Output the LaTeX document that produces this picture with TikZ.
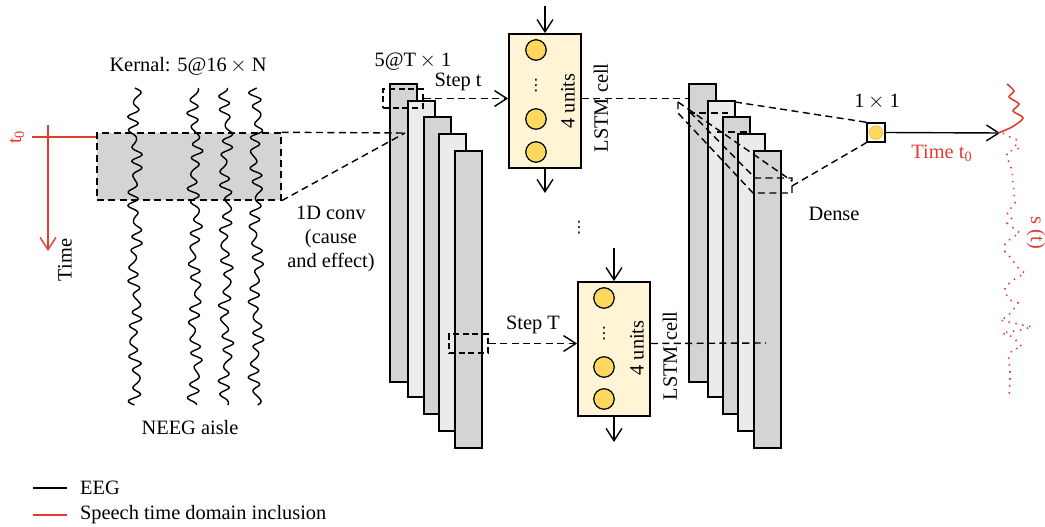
\documentclass[tikz,border=0pt]{standalone}
\usepackage{fontspec}
\setmainfont{Liberation Serif}
\newfontfamily\dotsfont{DejaVu Sans}
\usepackage{xcolor}
\usetikzlibrary{arrows.meta, positioning, calc, fit}

\definecolor{sigred}{RGB}{228,58,47}
\definecolor{bardark}{RGB}{212,212,212}
\definecolor{barlight}{RGB}{235,235,235}
\definecolor{cellfill}{RGB}{255,245,214}
\definecolor{unitfill}{RGB}{253,216,95}

\begin{document}
\begin{tikzpicture}[
  x=0.02cm, y=-0.02cm,
  font=\fontsize{11.6}{13.5}\selectfont,
  bar/.style={draw, line width=1pt, inner sep=0pt},
  win/.style={draw, dashed, line width=0.8pt, inner sep=0pt, dash pattern=on 3.5pt off 2pt},
  cellbox/.style={draw, line width=1pt, fill=cellfill, inner sep=0pt},
  unit/.style={circle, draw, line width=0.7pt, fill=unitfill, minimum size=0.41cm, inner sep=0pt},
  lab/.style={inner sep=1pt},
  vdot/.style={inner sep=0pt, font=\dotsfont\fontsize{9}{9}\selectfont},
  arr/.style={-{Straight Barb[length=7pt, width=9pt]}, line width=0.8pt},
  darr/.style={arr, dash pattern=on 4pt off 2.5pt},
  dline/.style={line width=0.8pt, dash pattern=on 4pt off 2.5pt},
  wave/.style={line width=0.8pt, line join=round}
]
\useasboundingbox (0,0) rectangle (1045,527);

% input band and EEG channels
\node[draw, fill=bardark, inner sep=0pt, dline, fit={(97,133) (281,200)}] (band) {};
\foreach \cx/\ph in {135/0, 195/70, 226/140, 256/210}
  \draw[wave] plot[domain=88:405, samples=200]
    ({\cx + 4.2*sin(24*\x+\ph) + 1.6*sin(33*\x+2*\ph) + 2.4*sin(5*\x+\ph)}, \x);
\node[lab] (kernal) at (188,66) {Kernal: 5@16$\,\times$ N};
\node[lab] (aisle) at (190,428) {NEEG aisle};

% time axis
\coordinate (t0) at (32,137);
\coordinate (ttop) at (48,125);
\coordinate (tbot) at (48,251);
\draw[sigred, line width=0.9pt] (t0) -- (t0 -| band.west);
\draw[sigred, arr] (ttop) -- (tbot);
\node[lab, text=sigred, rotate=90] (t0lab) at (17,137) {t\textsubscript{0}};
\node[lab, rotate=90] (timelab) at (65,260) {Time};

% convolution maps
\foreach \bx/\bt/\bb/\bc/\bn in {390/84/382/bardark/c1, 408/101/397/barlight/c2,
    424/117/414/bardark/c3, 439/134/431/barlight/c4, 455/151/448/bardark/c5}
  \node[bar, fill=\bc, fit={(\bx,\bt) (\bx+27,\bb)}] (\bn) {};
\node[win, fit={(383,89) (423,108)}] (win1) {};
\node[win, fit={(449,334) (488,353)}] (win2) {};
\coordinate (convtip) at (405,133);
\draw[dline] (band.north east) -- (convtip);
\draw[dline] (band.south east) -- (convtip);
\node[lab] (mapsize) at (413,62) {5@T$\,\times$ 1};
\node[lab, align=center] (conv) at (331,239) {1D conv\\(cause\\and effect)};

% LSTM cells
\node[cellbox, fit={(509,34) (581,168)}] (cell1) {};
\node[unit] (u11) at (536,50) {};
\node[unit] (u12) at (536,119) {};
\node[unit] (u13) at (536,152) {};
\node[vdot] (d1) at (536,86) {⋮};
\node[lab, rotate=90] (n1) at (568,101) {4 units};
\node[lab, rotate=90] (lstm1) at (601,108) {LSTM cell};
\coordinate (in1) at (545,6);
\coordinate (out1) at (545,193);
\draw[arr] (in1) -- (cell1.north);
\draw[arr] (cell1.south) -- (out1);

\node[cellbox, fit={(578,282) (650,416)}] (cell2) {};
\node[unit] (u21) at (604,298) {};
\node[unit] (u22) at (604,367) {};
\node[unit] (u23) at (604,399) {};
\node[vdot] (d2) at (604,334) {⋮};
\node[lab, rotate=90] (n2) at (637,348) {4 units};
\node[lab, rotate=90] (lstm2) at (670,356) {LSTM cell};
\coordinate (in2) at (614,248);
\coordinate (out2) at (614,442);
\draw[arr] (in2) -- (cell2.north);
\draw[arr] (cell2.south) -- (out2);

\node[vdot] (dots) at (579,228) {⋮};

\draw[darr] (win1.east) -- (win1.east -| cell1.west);
\node[lab] (stept) at (458,82) {Step t};
\draw[darr] (win2.east) -- (win2.east -| cell2.west);
\node[lab] (stepT) at (533,325) {Step T};

% output maps
\foreach \bx/\bt/\bb/\bc/\bn in {689/84/382/bardark/r1, 708/101/397/barlight/r2,
    723/117/414/bardark/r3, 738/134/431/barlight/r4, 754/151/448/bardark/r5}
  \node[bar, fill=\bc, fit={(\bx,\bt) (\bx+27,\bb)}] (\bn) {};
\draw[dline] (win1.east -| cell1.east) -- (win1.east -| r1.west);
\coordinate (hend2) at (766,343);
\draw[dline] (win2.east -| cell2.east) -- (hend2);

% dense window
\draw[dline] (678,102) -- (792,181);
\draw[dline] (678,102) -- (678,113) -- (753,193) -- (792,193) -- (792,178) -- (755,178);
\draw[dline] (690,112) -- (755,178);
\draw[dline] (688,113) -- (728,113);
\draw[dline] (717,132) -- (748,132);
\node[lab] (dense) at (834,214) {Dense};

% output unit
\node[draw, line width=0.9pt, fill=white, inner sep=0pt, fit={(867,123) (885,142)}] (outbox) {};
\node[circle, draw=unitfill!80!orange, fill=unitfill, line width=0.6pt, minimum width=0.27cm, inner sep=0pt] (outunit) at (outbox.center) {};
\draw[dline] (735,102) -- (outbox.north west);
\draw[dline] (792,186) -- (outbox.south west);
\node[lab] (onebyone) at (877,102) {1$\,\times$ 1};
\coordinate (sig) at (1000,133);
\draw[arr] (outbox.east) -- (sig);
\node[lab, text=sigred] (timeout) at (942,153) {Time t\textsubscript{0}};

% speech signal
\draw[sigred, line width=0.9pt] plot[smooth] coordinates {(998,133) (1012,127) (1023,118) (1013,111)
  (1019,104) (1009,97) (1014,91) (1007,84)};
\draw[sigred, line width=0.9pt, dash pattern=on 0.8pt off 3.2pt] plot coordinates {
  (1003,133) (1010,137) (1017,140) (1015,145) (1020,148) (1007,152) (1007,157) (1012,170)
  (1013,183) (1015,203) (1007,213) (1012,218) (1007,223) (1012,227) (1020,233) (1013,237)
  (1005,243) (1005,252) (1010,257) (1020,270) (1025,273) (1013,280) (1005,287) (1005,293)
  (1010,300) (1018,303) (1013,310) (1007,317) (1000,320) (1013,323) (1032,327) (1020,330)
  (1002,333) (1013,337) (1022,347) (1012,350) (1008,360) (1010,367) (1010,380) (1009,398)};
\node[inner sep=0pt, text=sigred, rotate=-90] (slab) at (1036,233) {s (t)};

% legend
\coordinate (k1a) at (33,488);
\coordinate (k1b) at (67,488);
\coordinate (k2a) at (33,515);
\coordinate (k2b) at (67,515);
\draw[line width=0.8pt] (k1a) -- (k1b);
\draw[sigred, line width=0.8pt] (k2a) -- (k2b);
\node[lab, anchor=west] (key1) at (78,488) {EEG};
\node[lab, anchor=west] (key2) at (78,515) {Speech time domain inclusion};
\end{tikzpicture}
\end{document}
